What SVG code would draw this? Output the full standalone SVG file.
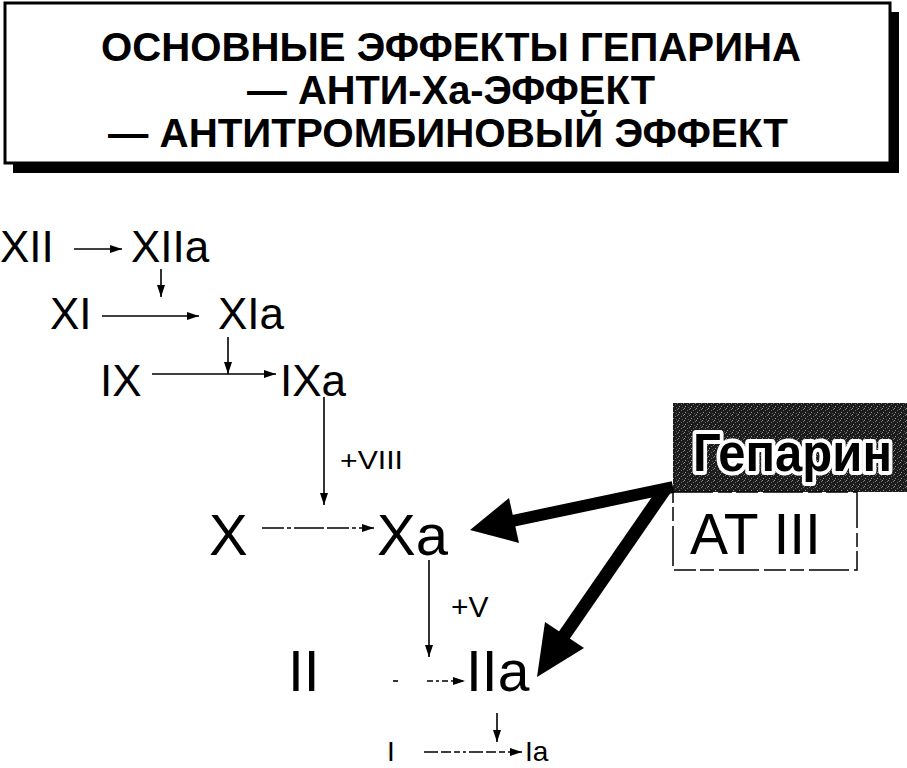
<svg xmlns="http://www.w3.org/2000/svg" width="907" height="768" viewBox="0 0 907 768">
<style>
  .t{font-family:"Liberation Sans",Arial,sans-serif;fill:#000}
  .title{font-weight:bold;font-size:41px}
  .f{font-size:44px}
  .big{font-size:58px}
  .thin{stroke:#000;stroke-width:1.6;fill:none}
</style>
<defs>
  <marker id="ah" viewBox="0 0 12 8" refX="12" refY="4" markerWidth="12" markerHeight="8" markerUnits="userSpaceOnUse" orient="auto">
    <path d="M0,0 L12,4 L0,8 z" fill="#000"/>
  </marker>
  <pattern id="grain" width="6" height="6" patternUnits="userSpaceOnUse">
    <rect width="6" height="6" fill="#1c1c1c"/>
    <rect x="0" y="0" width="1" height="1" fill="#8a8a8a"/>
    <rect x="3" y="2" width="1" height="1" fill="#6a6a6a"/>
    <rect x="1" y="4" width="1" height="1" fill="#9a9a9a"/>
    <rect x="4" y="5" width="1" height="1" fill="#555"/>
    <rect x="5" y="1" width="1" height="1" fill="#777"/>
  </pattern>
</defs>
<rect width="907" height="768" fill="#fff"/>

<g id="title">
  <rect x="13" y="12" width="886" height="161" fill="#000"/>
  <rect x="5" y="3" width="885" height="160" fill="#fff" stroke="#000" stroke-width="3"/>
  <text class="t title" x="101" y="61" textLength="700" lengthAdjust="spacingAndGlyphs">ОСНОВНЫЕ ЭФФЕКТЫ ГЕПАРИНА</text>
  <text class="t title" x="247" y="104" textLength="408" lengthAdjust="spacingAndGlyphs">— АНТИ-Ха-ЭФФЕКТ</text>
  <text class="t title" x="108" y="147" textLength="680" lengthAdjust="spacingAndGlyphs">— АНТИТРОМБИНОВЫЙ ЭФФЕКТ</text>
</g>

<g id="n-XII"><text class="t f" x="0" y="262">XII</text></g>
<g id="n-XIIa"><text class="t f" x="131" y="262">XIIa</text></g>
<g id="n-XI"><text class="t f" x="50" y="329">XI</text></g>
<g id="n-XIa"><text class="t f" x="218" y="329">XIa</text></g>
<g id="n-IX"><text class="t f" x="100" y="396">IX</text></g>
<g id="n-IXa"><text class="t f" x="280" y="396">IXa</text></g>
<g id="n-X"><text class="t big" x="209" y="555">X</text></g>
<g id="n-Xa"><text class="t big" x="377" y="555">Xa</text></g>
<g id="n-II"><text class="t" style="font-size:57px" x="288" y="691">II</text></g>
<g id="n-IIa"><text class="t" style="font-size:57px" x="466" y="691">IIa</text></g>
<g id="n-I"><text class="t" style="font-size:28px" x="387" y="761">I</text></g>
<g id="n-Ia"><text class="t" style="font-size:28px" x="525" y="761">Ia</text></g>

<g id="labels">
  <text class="t" style="font-size:25px" x="340" y="469" textLength="63" lengthAdjust="spacingAndGlyphs">+VIII</text>
  <text class="t" style="font-size:30px" x="451" y="617">+V</text>
</g>

<g id="heparin">
  <rect x="673" y="403" width="234" height="89" fill="url(#grain)"/>
  <text class="t" x="693" y="471" textLength="199" lengthAdjust="spacingAndGlyphs" style="font-size:53px;font-weight:bold;stroke:#fff;stroke-width:8;stroke-linejoin:round;paint-order:stroke">Гепарин</text>
</g>
<g id="at3">
  <rect x="673" y="492" width="184" height="78" fill="none" stroke="#000" stroke-width="1.5" stroke-dasharray="40 5 14 4 22 5"/>
  <text class="t" style="font-size:57px" x="690" y="554">AT III</text>
</g>

<g id="connectors">
  <line class="thin" x1="74" y1="249" x2="122" y2="249" marker-end="url(#ah)"/>
  <line class="thin" x1="161" y1="269" x2="161" y2="297" marker-end="url(#ah)"/>
  <line class="thin" x1="102" y1="316" x2="199" y2="316" marker-end="url(#ah)"/>
  <line class="thin" x1="228" y1="337" x2="228" y2="374" marker-end="url(#ah)"/>
  <line class="thin" x1="152" y1="374" x2="276" y2="374" marker-end="url(#ah)"/>
  <line class="thin" x1="324" y1="397" x2="324" y2="505" marker-end="url(#ah)"/>
  <line class="thin" x1="262" y1="528" x2="374" y2="528" stroke-dasharray="22 3 4 3 30 3" marker-end="url(#ah)"/>
  <line class="thin" x1="429" y1="560" x2="429" y2="657" marker-end="url(#ah)"/>
  <line class="thin" x1="393" y1="681" x2="398" y2="681"/>
  <line class="thin" x1="427" y1="681" x2="465" y2="681" stroke-dasharray="6 3 3 3" marker-end="url(#ah)"/>
  <line class="thin" x1="497" y1="713" x2="497" y2="742" marker-end="url(#ah)"/>
  <line class="thin" x1="424" y1="752" x2="522" y2="752" stroke-dasharray="14 3 10 3 6 3 3 3" marker-end="url(#ah)"/>
  <line x1="510" y1="521.5" x2="673" y2="487" stroke="#000" stroke-width="12"/>
  <polygon points="470,530 519,543 509,498" fill="#000"/>
  <line x1="561" y1="640" x2="666" y2="488" stroke="#000" stroke-width="13"/>
  <polygon points="537,677 584,648 545,622" fill="#000"/>
</g>
</svg>
